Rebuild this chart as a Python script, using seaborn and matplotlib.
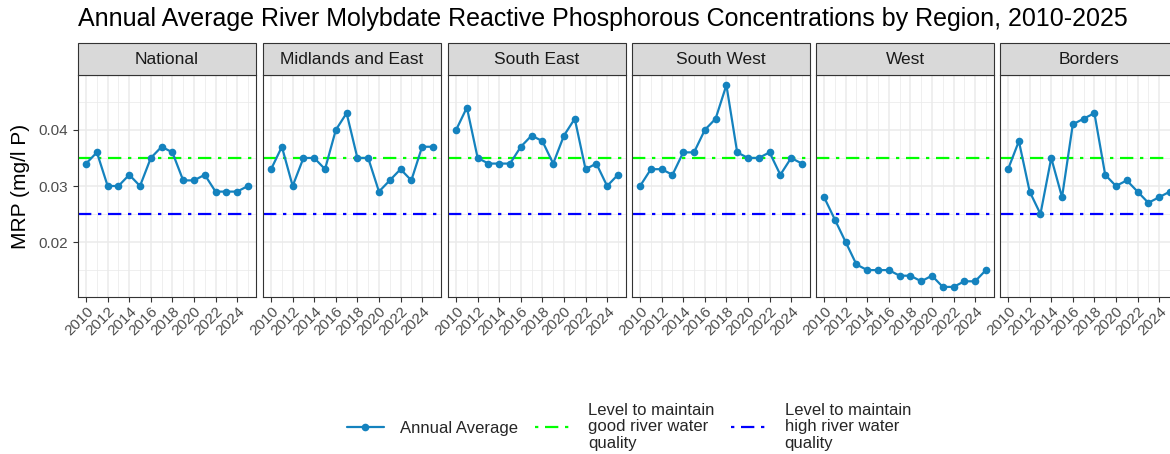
# Facetted line chart of annual average river MRP by region
import pandas as pd
import matplotlib.pyplot as plt
import matplotlib.ticker as mticker
from matplotlib.lines import Line2D
from matplotlib.patches import Rectangle
import seaborn as sns

# -------------------------------
# DATA
# -------------------------------
years = list(range(2010, 2026))
regions = ["National", "Midlands and East", "South East", "South West", "West", "Borders"]

national = [0.034, 0.036, 0.030, 0.030, 0.032, 0.030, 0.035, 0.037,
            0.036, 0.031, 0.031, 0.032, 0.029, 0.029, 0.029, 0.030]
midlands_east = [0.033, 0.037, 0.030, 0.035, 0.035, 0.033, 0.040, 0.043,
                 0.035, 0.035, 0.029, 0.031, 0.033, 0.031, 0.037, 0.037]
south_east = [0.040, 0.044, 0.035, 0.034, 0.034, 0.034, 0.037, 0.039,
              0.038, 0.034, 0.039, 0.042, 0.033, 0.034, 0.030, 0.032]
south_west = [0.030, 0.033, 0.033, 0.032, 0.036, 0.036, 0.040, 0.042,
              0.048, 0.036, 0.035, 0.035, 0.036, 0.032, 0.035, 0.034]
west = [0.028, 0.024, 0.020, 0.016, 0.015, 0.015, 0.015, 0.014,
        0.014, 0.013, 0.014, 0.012, 0.012, 0.013, 0.013, 0.015]
borders = [0.033, 0.038, 0.029, 0.025, 0.035, 0.028, 0.041, 0.042,
           0.043, 0.032, 0.030, 0.031, 0.029, 0.027, 0.028, 0.029]

good_level = 0.035
high_level = 0.025

series = [national, midlands_east, south_east, south_west, west, borders]
df = pd.concat(
    [pd.DataFrame({"Region": r, "Year": years, "MRP": v}) for r, v in zip(regions, series)],
    ignore_index=True,
)

# -------------------------------
# STYLE
# -------------------------------
sns.set_theme(style="white")
plt.rcParams["font.family"] = ["Liberation Sans", "DejaVu Sans"]

line_color = "#1482BE"
grey_text = "#4D4D4D"
border = "#333333"
dotdash = (0, (6, 3, 1.5, 3))

W, H = 1170, 454
g = sns.relplot(data=df, x="Year", y="MRP", col="Region", col_order=regions,
                kind="line", marker="o", color=line_color, linewidth=1.6,
                markersize=5.5, markeredgewidth=0,
                facet_kws=dict(sharex=True, sharey=True))
fig = g.figure
fig.set_size_inches(W / 100, H / 100)
g.set_titles("")

lefts = [78, 263, 448, 632, 816, 1000]
pw = 178
top, bottom = 75, 297

for i, (ax, region) in enumerate(zip(g.axes.flat, regions)):
    ax.set_position([lefts[i] / W, 1 - bottom / H, pw / W, (bottom - top) / H])
    ax.axhline(good_level, color="#00FF00", lw=1.6, ls=dotdash, zorder=1)
    ax.axhline(high_level, color="#0000FF", lw=1.6, ls=dotdash, zorder=1)

    ax.set_xlim(2009.25, 2025.75)
    ax.set_ylim(0.0102, 0.0498)
    ax.set_xticks(range(2010, 2025, 2))
    ax.set_xticks(range(2011, 2026, 2), minor=True)
    ax.set_yticks([0.02, 0.03, 0.04])
    ax.set_yticks([0.015, 0.025, 0.035, 0.045], minor=True)
    ax.yaxis.set_major_formatter(mticker.FormatStrFormatter("%.2f"))
    ax.grid(True, which="major", color="#EBEBEB", lw=1.1)
    ax.grid(True, which="minor", color="#EBEBEB", lw=0.55)
    ax.set_axisbelow(True)
    for s in ax.spines.values():
        s.set_visible(True)
        s.set_color(border)
        s.set_linewidth(0.8)

    ax.tick_params(axis="x", which="major", bottom=True, length=3.5, width=0.8,
                   color=border, labelsize=11, labelcolor=grey_text, pad=1.5)
    ax.tick_params(axis="y", which="major", left=(i == 0), length=3.5, width=0.8,
                   color=border, labelsize=11, labelcolor=grey_text,
                   labelleft=(i == 0))
    ax.tick_params(which="minor", bottom=False, left=False)
    for lab in ax.get_xticklabels():
        lab.set_rotation(45)
        lab.set_ha("right")
        lab.set_va("top")
        lab.set_rotation_mode("anchor")
    ax.set_xlabel("")
    ax.set_ylabel("")

    # strip header
    fig.patches.append(Rectangle((lefts[i] / W, 1 - top / H), pw / W, 32 / H,
                                 transform=fig.transFigure, facecolor="#D9D9D9",
                                 edgecolor=border, lw=0.8))
    fig.text((lefts[i] + pw / 2) / W, 1 - (top - 16) / H, region,
             ha="center", va="center", fontsize=12.5, color="#1A1A1A")

fig.text(21 / W, 1 - 186 / H, "MRP (mg/l P)", rotation=90, ha="center",
         va="center", fontsize=15, color="black")
fig.text(78 / W, 1 - 19 / H,
         "Annual Average River Molybdate Reactive Phosphorous Concentrations by Region, 2010-2025",
         ha="left", va="center", fontsize=18, color="black")

handles = [
    Line2D([], [], color=line_color, lw=1.6, marker="o", markersize=5.5, markeredgewidth=0),
    Line2D([], [], color="#00FF00", lw=1.6, ls=(0, (1.5, 3, 6, 3))),
    Line2D([], [], color="#0000FF", lw=1.6, ls=(0, (1.5, 3, 6, 3))),
]
labels = ["Annual Average", "Level to maintain\ngood river water\nquality",
          "Level to maintain\nhigh river water\nquality"]
leg = fig.legend(handles, labels, loc="center", bbox_to_anchor=(629 / W, 1 - 427 / H),
                 ncol=3, frameon=False, fontsize=12, handlelength=2.2,
                 columnspacing=1.0, handletextpad=1.0)
for t in leg.get_texts():
    t.set_linespacing(1.1)

fig.savefig("out.png", dpi=100)
